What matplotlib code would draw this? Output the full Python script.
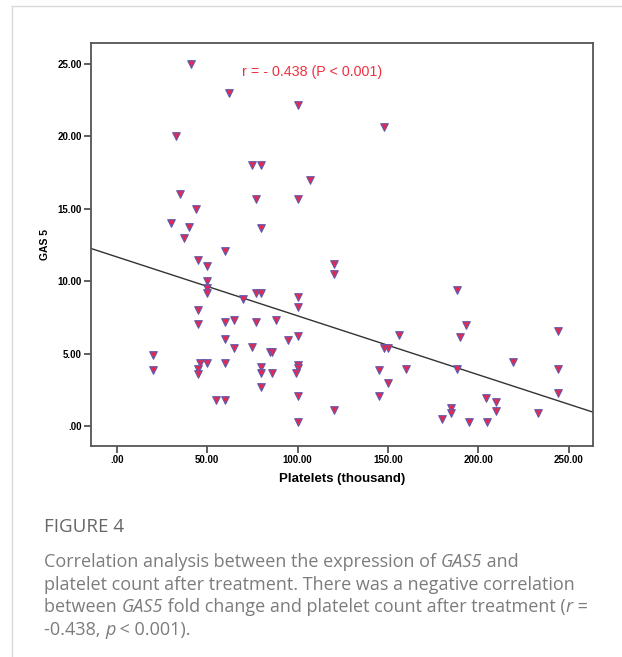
import matplotlib.pyplot as plt
from matplotlib.lines import Line2D
import numpy as np

plt.rcParams['font.family'] = ['Liberation Sans', 'DejaVu Sans']

# Platelets (thousand) vs GAS5 fold change
platelets = [41, 62, 100, 148, 33, 75, 80, 107, 35, 77, 100, 44, 30, 40, 80, 37, 60, 45, 50, 120,
             120, 50, 50, 50, 77, 80, 188, 100, 70, 100, 45, 45, 60, 65, 77, 88, 193, 244, 156, 190,
             100, 60, 95, 65, 75, 85, 86, 148, 150, 20, 46, 50, 60, 219, 100, 80, 100, 160, 188, 244,
             45, 20, 145, 80, 86, 99, 45, 150, 80, 244, 100, 145, 204, 55, 60, 210, 185, 120, 210, 185,
             233, 180, 100, 195, 205]
gas5 = [25.0, 23.0, 22.17, 20.67, 20.0, 18.0, 18.0, 17.0, 16.0, 15.7, 15.7, 15.0, 14.04, 13.76, 13.67,
        13.0, 12.09, 11.46, 11.05, 11.17, 10.48, 10.04, 9.51, 9.21, 9.21, 9.21, 9.39, 8.93, 8.77, 8.2,
        8.01, 7.07, 7.2, 7.32, 7.2, 7.32, 6.98, 6.56, 6.26, 6.17, 6.22, 5.99, 5.94, 5.4, 5.45,
        5.12, 5.12, 5.36, 5.36, 4.88, 4.37, 4.37, 4.37, 4.4, 4.21, 4.05, 3.99, 3.96, 3.96, 3.94,
        3.91, 3.89, 3.87, 3.67, 3.64, 3.64, 3.6, 2.99, 2.72, 2.26, 2.07, 2.07, 1.91, 1.8, 1.8,
        1.68, 1.22, 1.1, 1.06, 0.9, 0.92, 0.51, 0.28, 0.25, 0.25]

# fit line (intercept, slope) as drawn in the figure
fit_b0 = 11.68
fit_b1 = -0.0407

x_ticks = [0, 50, 100, 150, 200, 250]
x_labels = [".00", "50.00", "100.00", "150.00", "200.00", "250.00"]
y_ticks = [0, 5, 10, 15, 20, 25]
y_labels = [".00", "5.00", "10.00", "15.00", "20.00", "25.00"]

x_lim = (-14.4, 263.6)
y_lim = (-1.38, 26.47)

fig = plt.figure(figsize=(6.22, 6.57), dpi=100)
ax = fig.add_axes([90.7 / 622, 1 - 446 / 657, 502.6 / 622, 403.3 / 657])

ax.scatter(platelets, gas5, marker='v', s=30, facecolor='#e8274f', edgecolor='#5b5bb0',
           linewidth=0.8, zorder=3)

xx = np.array(x_lim)
ax.plot(xx, fit_b0 + fit_b1 * xx, color='#333333', linewidth=1.0, zorder=2)

ax.set_xlim(x_lim)
ax.set_ylim(y_lim)
ax.set_xticks(x_ticks)
ax.set_xticklabels(x_labels)
ax.set_yticks(y_ticks)
ax.set_yticklabels(y_labels)
ax.tick_params(direction='out', length=5, width=1.2, color='#444444', labelsize=7, pad=1.5)
for lab in ax.get_xticklabels() + ax.get_yticklabels():
    lab.set_fontweight('bold')
for sp in ax.spines.values():
    sp.set_color('#555555')
    sp.set_linewidth(1.3)

ax.set_xlabel('Platelets (thousand)', fontsize=9.5, fontweight='bold', labelpad=6)
ax.set_ylabel('GAS 5', fontsize=7.5, fontweight='bold', labelpad=5)

ax.text(0.44, 0.928, 'r = - 0.438 (P < 0.001)', transform=ax.transAxes, color='#f0303f',
        fontsize=10.3, ha='center', va='center')

# page frame
fig.add_artist(Line2D([12 / 622, 1], [1 - 6 / 657, 1 - 6 / 657], color='#d9d9d9', linewidth=1))
fig.add_artist(Line2D([12 / 622, 12 / 622], [0, 1 - 6 / 657], color='#d9d9d9', linewidth=1))

# caption
cap_font = ['Open Sans', 'DejaVu Sans']
cap_color = '#7c7c7c'
cap_size = 13.0
fig.text(44 / 622, 1 - 527 / 657, 'FIGURE 4', fontsize=13.5, color='#666666', family=cap_font,
         va='center', ha='left')

cap_lines = [
    [('Correlation analysis between the expression of ', 'normal'), ('GAS5', 'italic'), (' and', 'normal')],
    [('platelet count after treatment. There was a negative correlation', 'normal')],
    [('between ', 'normal'), ('GAS5', 'italic'),
     (' fold change and platelet count after treatment (', 'normal'), ('r', 'italic'), (' =', 'normal')],
    [('-0.438, ', 'normal'), ('p', 'italic'), (' < 0.001).', 'normal')],
]


def text_width(s, style, renderer):
    # width including trailing spaces: measure with a sentinel character
    a = fig.text(0, 0, s + '|', fontsize=cap_size, family=cap_font, style=style, alpha=0)
    b = fig.text(0, 0, '|', fontsize=cap_size, family=cap_font, style=style, alpha=0)
    w = a.get_window_extent(renderer).width - b.get_window_extent(renderer).width
    a.remove()
    b.remove()
    return w


renderer = fig.canvas.get_renderer()
for i, segs in enumerate(cap_lines):
    x0 = 44
    y0 = 1 - (561 + 6 + 22.6 * i) / 657
    for txt, style in segs:
        fig.text(x0 / 622, y0, txt, fontsize=cap_size, color=cap_color, family=cap_font,
                 style=style, va='baseline', ha='left')
        x0 += text_width(txt, style, renderer)

fig.savefig('out.png', dpi=100)
